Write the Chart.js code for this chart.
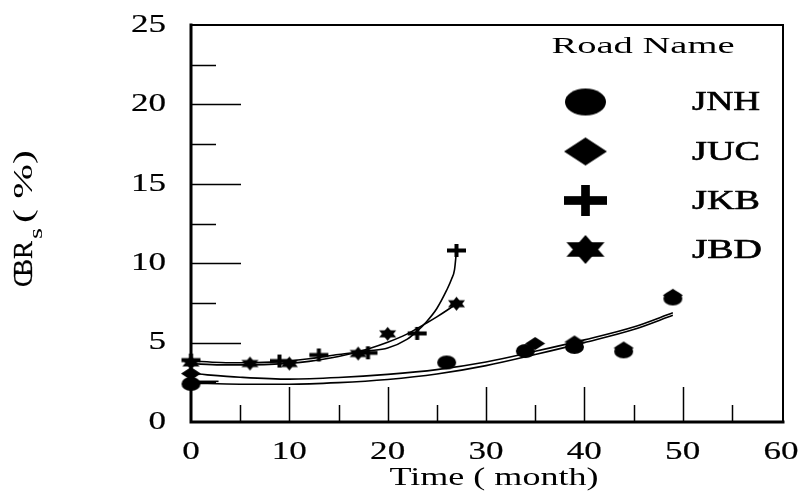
<!DOCTYPE html>
<html>
<head>
<meta charset="utf-8">
<script src="https://cdn.jsdelivr.net/npm/chart.js@4.4.1/dist/chart.umd.min.js"></script>
<style>
  html, body { margin: 0; padding: 0; background: #fff; }
  #wrap { width: 804px; height: 491px; position: relative; }
</style>
</head>
<body>
<div id="wrap"><canvas id="cbr" width="804" height="491"></canvas></div>
<script>
// ---- data ----
const roadNames = ['JNH', 'JUC', 'JKB', 'JBD'];

const jnhX = [0, 26, 34, 39, 44, 49];
const jnhY = [2.4, 3.75, 4.47, 4.73, 4.45, 7.78];
const jucX = [0, 35, 39, 44, 49];
const jucY = [3.05, 4.94, 5.04, 4.66, 7.98];
const jkbX = [0, 9, 13, 18, 23, 27];
const jkbY = [3.9, 3.84, 4.22, 4.36, 5.58, 10.8];
const jbdX = [0, 6, 10, 17, 20, 27];
const jbdY = [3.72, 3.68, 3.68, 4.31, 5.55, 7.45];

// fitted curves
const fitLowX = [0, 5, 10, 15, 20, 25, 30, 35, 40, 45, 49];
const jnhFit = [2.45, 2.38, 2.38, 2.48, 2.68, 3.02, 3.55, 4.25, 5.0, 5.82, 6.72];
const jucFit = [3.05, 2.82, 2.7, 2.8, 3.0, 3.3, 3.78, 4.45, 5.17, 5.98, 6.88];
const jkbFitX = [0, 3, 6, 9, 12, 15, 18, 20, 22, 23, 24, 25, 26, 26.5, 26.8, 27];
const jkbFit = [3.85, 3.75, 3.73, 3.8, 3.98, 4.25, 4.48, 4.66, 5.22, 5.72, 6.35, 7.15, 8.3, 9.0, 9.6, 10.8];
const jbdFitX = [0, 3, 6, 9, 12, 15, 18, 20, 22, 24, 25, 26, 27];
const jbdFit = [3.68, 3.6, 3.6, 3.66, 3.82, 4.12, 4.6, 5.02, 5.55, 6.25, 6.62, 7.02, 7.45];
// short dash near the origin
const stubX = [0.6, 2.8];
const stubY = [2.56, 2.56];

const xTicks = [0, 10, 20, 30, 40, 50, 60];
const yTicks = [0, 5, 10, 15, 20, 25];

// ---- marker images ----
function makeMarker(kind, w, h) {
    const c = document.createElement('canvas');
    c.width = Math.ceil(w) + 2;
    c.height = Math.ceil(h) + 2;
    const g = c.getContext('2d');
    const cx = c.width / 2, cy = c.height / 2;
    g.fillStyle = '#000';
    if (kind === 'ellipse') {
        g.beginPath();
        g.ellipse(cx, cy, w / 2, h / 2, 0, 0, Math.PI * 2);
        g.fill();
    } else if (kind === 'diamond') {
        g.beginPath();
        g.moveTo(cx, cy - h / 2);
        g.lineTo(cx + w / 2, cy);
        g.lineTo(cx, cy + h / 2);
        g.lineTo(cx - w / 2, cy);
        g.closePath();
        g.fill();
    } else if (kind === 'plus') {
        const t = Math.max(4, h * 0.28);
        g.fillRect(cx - w / 2, cy - t / 2, w, t);
        g.fillRect(cx - t / 2, cy - h / 2, t, h);
    } else if (kind === 'star') {
        // two triangles, filled one at a time
        g.beginPath();
        g.moveTo(cx, cy - h / 2);
        g.lineTo(cx + w / 2, cy + h / 4);
        g.lineTo(cx - w / 2, cy + h / 4);
        g.closePath();
        g.fill();
        g.beginPath();
        g.moveTo(cx, cy + h / 2);
        g.lineTo(cx + w / 2, cy - h / 4);
        g.lineTo(cx - w / 2, cy - h / 4);
        g.closePath();
        g.fill();
    }
    return c;
}

const kinds = ['ellipse', 'diamond', 'plus', 'star'];
const plotSizes = [[19, 14], [20, 13], [19, 13], [17, 14]];
const legendSizes = [[41, 27], [43, 28], [43, 31], [38, 29]];
const plotMarkers = kinds.map((k, i) => makeMarker(k, plotSizes[i][0], plotSizes[i][1]));
const legendMarkers = kinds.map((k, i) => makeMarker(k, legendSizes[i][0], legendSizes[i][1]));

const pts = (xs, ys) => xs.map((v, i) => ({ x: v, y: ys[i] }));

function markerSet(label, xs, ys, idx) {
    return {
        label: label,
        data: pts(xs, ys),
        showLine: false,
        pointStyle: plotMarkers[idx],
        pointRadius: 8,
        clip: false
    };
}

function fitSet(label, xs, ys) {
    return {
        label: label,
        data: pts(xs, ys),
        showLine: true,
        borderColor: '#000',
        borderWidth: 1.6,
        pointRadius: 0,
        cubicInterpolationMode: 'monotone',
        clip: false
    };
}

// ---- text helper (the reference type is stretched sideways) ----
const SERIF = '"Liberation Serif", "Times New Roman", serif';
function stretchText(ctx, str, x, y, size, sx, align, heavy) {
    ctx.save();
    ctx.font = size + 'px ' + SERIF;
    ctx.textAlign = align;
    ctx.textBaseline = 'middle';
    ctx.translate(x, y);
    ctx.scale(sx, 1);
    ctx.fillText(str, 0, 0);
    if (heavy) {
        ctx.lineWidth = heavy;
        ctx.strokeText(str, 0, 0);
    }
    ctx.restore();
}
function fitWidth(ctx, str, size, width) {
    ctx.font = size + 'px ' + SERIF;
    return width / ctx.measureText(str).width;
}

// axes, inward ticks, labels and legend
const framePlugin = {
    id: 'frame',
    beforeDatasetsDraw(chart) {
        const { ctx, chartArea: a, scales: { x, y } } = chart;
        ctx.save();
        ctx.strokeStyle = '#000';
        ctx.lineCap = 'square';

        // box
        ctx.lineWidth = 2;
        ctx.beginPath();
        ctx.moveTo(a.left, a.top); ctx.lineTo(a.right + 2, a.top);
        ctx.moveTo(a.right + 2, a.top); ctx.lineTo(a.right + 2, a.bottom);
        ctx.stroke();
        ctx.lineWidth = 3;
        ctx.beginPath();
        ctx.moveTo(a.left, a.top); ctx.lineTo(a.left, a.bottom);
        ctx.lineTo(a.right + 2, a.bottom);
        ctx.stroke();

        // y ticks pointing into the plot
        ctx.lineWidth = 1.5;
        ctx.lineCap = 'butt';
        ctx.beginPath();
        for (let v = 2.5; v < 25; v += 2.5) {
            const py = Math.round(y.getPixelForValue(v)) + 0.5;
            const len = (v % 5 === 0) ? 50 : 25;
            ctx.moveTo(a.left, py); ctx.lineTo(a.left + len, py);
        }
        // x ticks pointing up
        for (let v = 5; v < 60; v += 5) {
            const px = Math.round(x.getPixelForValue(v)) + 0.5;
            const len = (v % 10 === 0) ? 35 : 17;
            ctx.moveTo(px, a.bottom); ctx.lineTo(px, a.bottom - len);
        }
        ctx.stroke();

        ctx.fillStyle = '#000';
        yTicks.forEach(v => stretchText(ctx, String(v), 166, y.getPixelForValue(v), 26, 1.35, 'right', 0.2));
        xTicks.forEach(v => stretchText(ctx, String(v), x.getPixelForValue(v), 452, 26, 1.35, 'center', 0.2));

        // x title
        const tt = 'Time ( month)';
        stretchText(ctx, tt, 494, 478, 26, fitWidth(ctx, tt, 26, 209), 'center');

        // y title, rotated
        ctx.save();
        ctx.translate(32, 287);
        ctx.rotate(-Math.PI / 2);
        ctx.font = '27px ' + SERIF;
        ctx.textBaseline = 'alphabetic';
        ctx.textAlign = 'left';
        ctx.lineWidth = 0.3;
        ctx.fillText('C', 0, 0);
        ctx.fillText('BR', 10, 0);
        ctx.strokeText('C', 0, 0);
        ctx.strokeText('BR', 10, 0);
        ctx.save();
        ctx.font = '18px ' + SERIF;
        ctx.translate(48, 10);
        ctx.scale(fitWidth(ctx, 's', 18, 11), 1);
        ctx.fillText('s', 0, 0);
        ctx.restore();
        ctx.save();
        ctx.translate(64, 0);
        ctx.scale(fitWidth(ctx, '( %)', 27, 73), 1);
        ctx.font = '27px ' + SERIF;
        ctx.fillText('( %)', 0, 0);
        ctx.restore();
        ctx.restore();

        // legend
        const title = 'Road Name';
        stretchText(ctx, title, 551.5, 46.5, 24, fitWidth(ctx, title, 24, 183), 'left');
        const rowY = [102, 151.5, 200.5, 249.5];
        roadNames.forEach((name, i) => {
            const m = legendMarkers[i];
            ctx.drawImage(m, 585.5 - m.width / 2, rowY[i] - m.height / 2);
            stretchText(ctx, name, 692, rowY[i] + 1, 28, fitWidth(ctx, name, 28, i === 3 ? 70 : 68), 'left', 0.6);
        });
        ctx.restore();
    }
};

const ctx = document.getElementById('cbr').getContext('2d');
const cbrChart = new Chart(ctx, {
    type: 'scatter',
    data: {
        datasets: [
            markerSet('JNH', jnhX, jnhY, 0),
            markerSet('JUC', jucX, jucY, 1),
            markerSet('JKB', jkbX, jkbY, 2),
            markerSet('JBD', jbdX, jbdY, 3),
            fitSet('JNH fit', fitLowX, jnhFit),
            fitSet('JUC fit', fitLowX, jucFit),
            fitSet('JKB fit', jkbFitX, jkbFit),
            fitSet('JBD fit', jbdFitX, jbdFit),
            fitSet('stub', stubX, stubY)
        ]
    },
    options: {
        responsive: false,
        animation: false,
        devicePixelRatio: 1,
        layout: { padding: { left: 191, top: 25, right: 23, bottom: 69 } },
        scales: {
            x: { type: 'linear', min: 0, max: 60, display: false },
            y: { type: 'linear', min: 0, max: 25, display: false }
        },
        plugins: { legend: { display: false }, tooltip: { enabled: false } }
    },
    plugins: [framePlugin]
});
</script>
</body>
</html>
